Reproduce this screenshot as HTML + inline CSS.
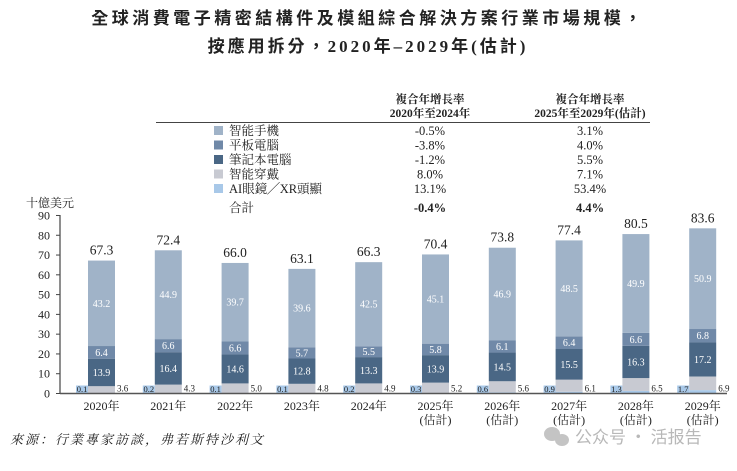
<!DOCTYPE html>
<html><head><meta charset="utf-8"><style>
body{margin:0;background:#fff;width:737px;height:466px;overflow:hidden;font-family:"Liberation Serif","Noto Serif CJK SC",serif;}
</style></head><body>
<svg id="s" width="737" height="466" xmlns="http://www.w3.org/2000/svg" font-family="Liberation Serif, Noto Serif CJK SC, serif">
<g font-family="Liberation Serif, Noto Sans CJK TC, sans-serif" font-weight="bold" font-size="17" fill="#222" text-anchor="middle">
<text x="368" y="24" letter-spacing="3.5">全球消費電子精密結構件及模組綜合解決方案行業市場規模，</text>
<text x="368" y="52" letter-spacing="3">按應用拆分，2020年–2029年(估計)</text>
</g>
<g font-size="11.5" fill="#222" font-weight="bold" text-anchor="middle">
<text x="430" y="103">複合年增長率</text><text x="430" y="117">2020年至2024年</text>
<text x="590" y="103">複合年增長率</text><text x="590" y="117">2025年至2029年(估計)</text>
</g>
<line x1="156" y1="122.5" x2="650" y2="122.5" stroke="#444" stroke-width="1"/>
<g id="leg" font-size="12.5" fill="#222"></g>
<text x="26" y="207" font-size="12" fill="#222">十億美元</text>
<g id="ch"></g>
<text x="10" y="444" font-size="13" font-style="italic" fill="#222" letter-spacing="2">來源：行業專家訪談，弗若斯特沙利文</text>
<g fill="#c4c4c4"><ellipse cx="552" cy="434" rx="8" ry="7"/><ellipse cx="562" cy="440" rx="7" ry="6"/></g>
<text x="575" y="443" font-size="17" fill="#b8b8b8" font-family="Noto Sans CJK SC, sans-serif">公众号 · 活报告</text>
</svg>
<script>
const ns="http://www.w3.org/2000/svg";
function el(p,t,a,txt){const e=document.createElementNS(ns,t);for(const k in a)e.setAttribute(k,a[k]);if(txt!=null)e.textContent=txt;p.appendChild(e);return e;}
const C=["#a0b3c8","#7089a8","#4a6785","#c8cad2","#a8c8e8"];
const leg=document.getElementById('leg');
const names=["智能手機","平板電腦","筆記本電腦","智能穿戴","AI眼鏡╱XR頭顯"];
const g1=["-0.5%","-3.8%","-1.2%","8.0%","13.1%"],g2=["3.1%","4.0%","5.5%","7.1%","53.4%"];
const ys=[131,145.5,160,174.5,189];
for(let i=0;i<5;i++){el(leg,'rect',{x:214,y:ys[i]-5,width:9,height:9,fill:C[i]});
el(leg,'text',{x:229,y:ys[i]+4},names[i]);
el(leg,'text',{x:430,y:ys[i]+4,'text-anchor':'middle'},g1[i]);
el(leg,'text',{x:590,y:ys[i]+4,'text-anchor':'middle'},g2[i]);}
el(leg,'text',{x:229,y:212},"合計");
el(leg,'text',{x:430,y:212,'text-anchor':'middle','font-weight':'bold'},"-0.4%");
el(leg,'text',{x:590,y:212,'text-anchor':'middle','font-weight':'bold'},"4.4%");
const ch=document.getElementById('ch');
const Y0=393.5,K=1.978;
for(let v=0;v<=90;v+=10){const y=Y0-v*K;el(ch,'line',{x1:56,x2:60,y1:y,y2:y,stroke:'#444'});
el(ch,'text',{x:50,y:y+4,'text-anchor':'end','font-size':12,fill:'#222'},v);}
const D=[[43.2,6.4,13.9,3.6,0.1,"67.3"],[44.9,6.6,16.4,4.3,0.2,"72.4"],[39.7,6.6,14.6,5.0,0.1,"66.0"],[39.6,5.7,12.8,4.8,0.1,"63.1"],[42.5,5.5,13.3,4.9,0.2,"66.3"],[45.1,5.8,13.9,5.2,0.3,"70.4"],[46.9,6.1,14.5,5.6,0.6,"73.8"],[48.5,6.4,15.5,6.1,0.9,"77.4"],[49.9,6.6,16.3,6.5,1.3,"80.5"],[50.9,6.8,17.2,6.9,1.7,"83.6"]];
D.forEach((d,i)=>{const x=88+i*66.8,w=27;let cum=0;
const order=[4,3,2,1,0];
order.forEach(j=>{const y=Y0-(cum+d[j])*K;const h=d[j]*K;el(ch,'rect',{x:x,y:y,width:w,height:h,fill:C[j]});
if(j<=2)el(ch,'text',{x:x+w/2,y:y+h/2+3.5,'text-anchor':'middle','font-size':10,fill:'#fff'},d[j].toFixed(1));
cum+=d[j];});
el(ch,'text',{x:x+w/2,y:Y0-cum*K-6,'text-anchor':'middle','font-size':13.5,fill:'#222'},d[5]);
el(ch,'rect',{x:x-12,y:Y0-8,width:12,height:8,fill:C[4]});
el(ch,'text',{x:x-6,y:Y0-1.5,'text-anchor':'middle','font-size':8.5,fill:'#222'},d[4].toFixed(1));
el(ch,'text',{x:x+w+2,y:Y0-2,'font-size':9,fill:'#222'},d[3].toFixed(1));
const yr=2020+i;el(ch,'text',{x:x+w/2,y:410,'text-anchor':'middle','font-size':12,fill:'#222'},yr+"年");
if(yr>=2025)el(ch,'text',{x:x+w/2,y:424,'text-anchor':'middle','font-size':12,fill:'#222'},"(估計)");
});
el(ch,'line',{x1:60,x2:60,y1:215,y2:Y0,stroke:'#444','stroke-width':1.2});
el(ch,'line',{x1:60,x2:727,y1:Y0,y2:Y0,stroke:'#555','stroke-width':1.5});
</script>
</body></html>
